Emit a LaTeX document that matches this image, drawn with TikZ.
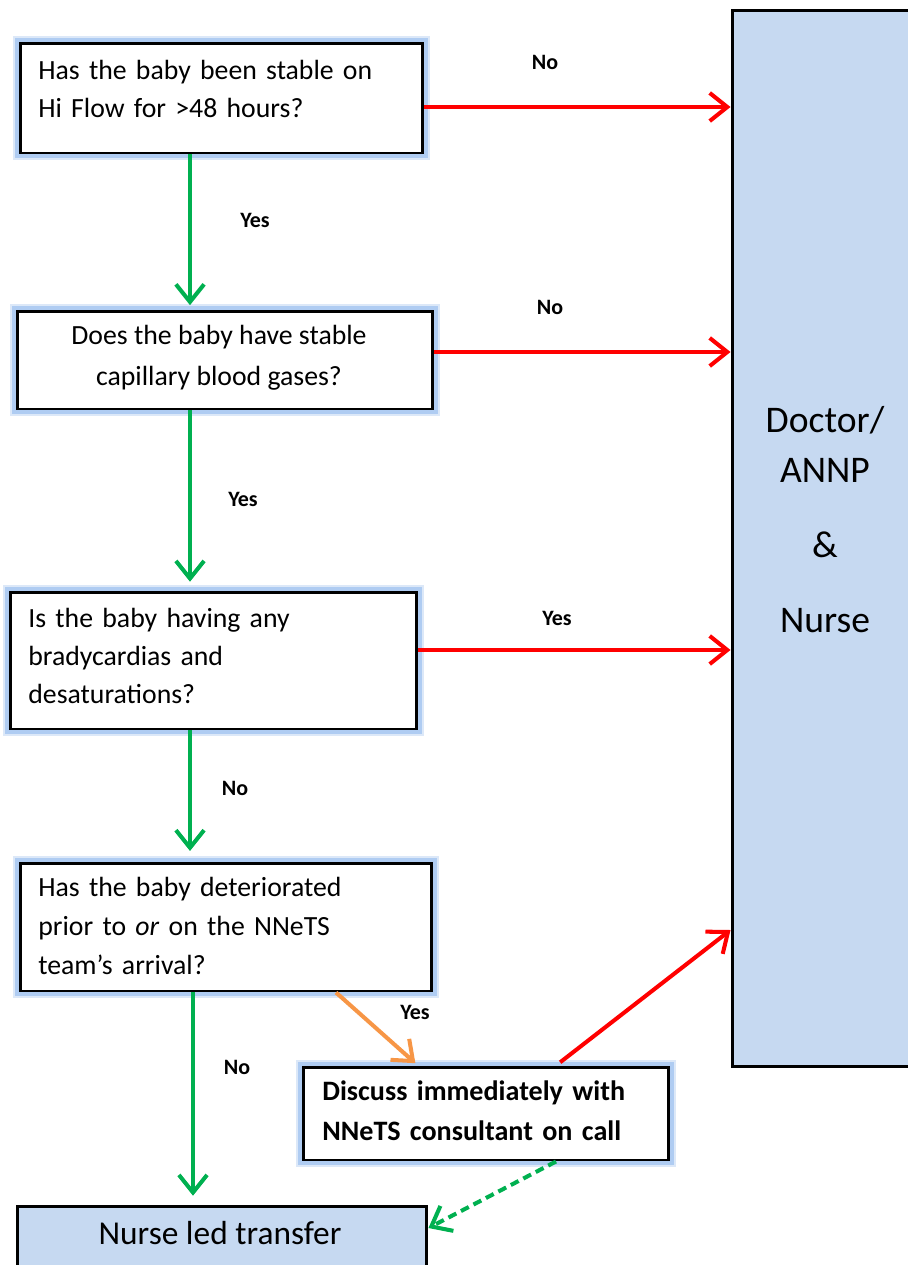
\documentclass[tikz,border=0pt]{standalone}
\usepackage{fontspec}
\setmainfont{Carlito}
\usetikzlibrary{arrows.meta,calc}
\definecolor{redA}{HTML}{FF0000}
\definecolor{greenA}{HTML}{00B050}
\definecolor{orangeA}{HTML}{F79646}
\definecolor{fillA}{HTML}{C6D9F1}
\definecolor{glowA}{HTML}{AFCCF2}
\definecolor{glowB}{HTML}{DCE8F8}
\begin{document}
\begin{tikzpicture}[x=0.02cm,y=-0.02cm,
  qbox/.style={rectangle, draw=black, line width=1.7pt, fill=white, inner sep=0pt,
    preaction={draw=glowB, line width=8pt},
    preaction={draw=glowA, line width=5.5pt}},
  bluebox/.style={rectangle, draw=black, line width=1.7pt, fill=fillA, inner sep=0pt},
  body/.style={inner sep=0pt, font=\fontsize{15.8}{21.8}\selectfont, text width=9cm, align=left},
  lbl/.style={inner sep=0pt, font=\fontsize{12.5}{14}\selectfont\bfseries},
  big/.style={inner sep=0pt, font=\fontsize{21.4}{26}\selectfont},
  tip/.style={-{Straight Barb[length=10pt,width=16pt,line width=2.3pt]}},
  redarr/.style={tip, draw=redA, line width=2.3pt},
  grnarr/.style={tip, draw=greenA, line width=2.3pt},
  orgarr/.style={tip, draw=orangeA, line width=2.3pt}
]
\useasboundingbox (0,0) rectangle (907,1265);

% big right box
\node[bluebox, minimum width=3.96cm, minimum height=21.14cm] (doc) at (831,538.5) {};
\node[big, anchor=base] (t1) at (825,432) {Doctor/};
\node[big, anchor=base] (t2) at (825,482) {ANNP};
\node[big, anchor=base] (t3) at (825,557) {\&};
\node[big, anchor=base] (t4) at (825,632) {Nurse};

% question boxes
\node[qbox, minimum width=8.06cm, minimum height=2.2cm] (q1) at (221.5,98) {};
\node[body, anchor=base west] (q1t) at (38,79) {Has the baby been stable on\\Hi Flow for >48 hours?};

\node[qbox, minimum width=8.32cm, minimum height=1.96cm] (q2) at (225,360) {};
\node[inner sep=0pt, font=\fontsize{15.8}{21.8}\selectfont, anchor=base] (q2a) at (219,344) {Does the baby have stable};
\node[inner sep=0pt, font=\fontsize{15.8}{21.8}\selectfont, anchor=base] (q2b) at (219,385) {capillary blood gases?};

\node[qbox, minimum width=8.14cm, minimum height=2.74cm] (q3) at (213.5,660.5) {};
\node[body, anchor=base west, font=\fontsize{15.8}{21.8}\selectfont] (q3t) at (28,627) {Is the baby having any\\bradycardias and\\desaturations?};

\node[qbox, minimum width=8.24cm, minimum height=2.56cm] (q4) at (226,927) {};
\node[body, anchor=base west, font=\fontsize{15.8}{22.2}\selectfont] (q4t) at (38,896) {Has the baby deteriorated\\prior to \textit{or} on the NNeTS\\team's arrival?};

\node[qbox, minimum width=7.32cm, minimum height=1.86cm] (q5) at (486,1113.5) {};
\node[body, anchor=base west, font=\fontsize{16}{22.8}\selectfont\bfseries] (q5t) at (322,1100) {Discuss immediately with\\NNeTS consultant on call};

\node[bluebox, minimum width=8.2cm, minimum height=1.6cm] (q6) at (222,1246) {};
\node[inner sep=0pt, font=\fontsize{19}{22}\selectfont, anchor=base] (q6t) at (220,1244) {Nurse led transfer};

% helper coordinates
\coordinate (gx) at (190,0);
\coordinate (gx2) at (193,0);
\coordinate (r1) at (0,107);
\coordinate (r2) at (0,352);
\coordinate (r3) at (0,650);
\coordinate (r4) at (0,930);
\coordinate (o1) at (336,0);
\coordinate (o2) at (418,0);
\coordinate (d1) at (556,0);
\coordinate (d2) at (0,1228);

% red arrows
\draw[redarr] (q1.east |- r1) -- (doc.west |- r1);
\draw[redarr] (q2.east |- r2) -- (doc.west |- r2);
\draw[redarr] (q3.east |- r3) -- (doc.west |- r3);
\draw[redarr, shorten <=3pt] (q5.north -| d1) -- (doc.west |- r4);

% green arrows
\draw[grnarr, shorten >=2.5pt] (q1.south -| gx) -- (q2.north -| gx);
\draw[grnarr, shorten >=5pt] (q2.south -| gx) -- (q3.north -| gx);
\draw[grnarr, shorten >=6pt] (q3.south -| gx) -- (q4.north -| gx);
\draw[grnarr, shorten >=5pt] (q4.south -| gx2) -- (q6.north -| gx2);
\draw[grnarr, dashed, dash pattern=on 5pt off 3pt] (q5.south -| d1) -- (q6.east |- d2);

% orange arrow
\draw[orgarr, shorten >=2pt] (q4.south -| o1) -- (q5.north -| o2);

% labels
\node[lbl] (l1) at (545,62) {No};
\node[lbl] (l2) at (255,220) {Yes};
\node[lbl] (l3) at (550,307) {No};
\node[lbl] (l4) at (243,499) {Yes};
\node[lbl] (l5) at (557,618) {Yes};
\node[lbl] (l6) at (235,788) {No};
\node[lbl] (l7) at (415,1012) {Yes};
\node[lbl] (l8) at (237,1067) {No};
\end{tikzpicture}
\end{document}
